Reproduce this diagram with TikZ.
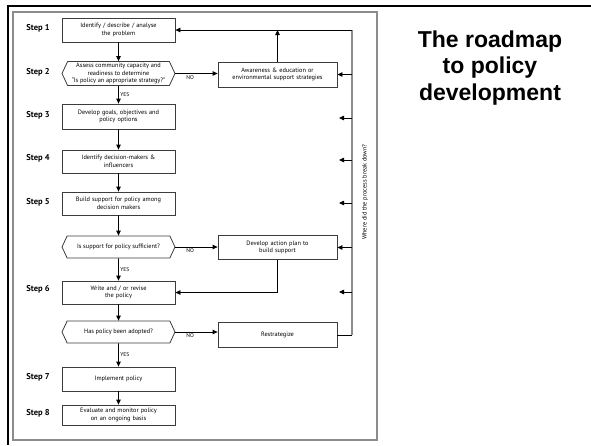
\documentclass[tikz,border=0pt]{standalone}
\usepackage{fontspec}
\setmainfont{PT Sans}
\newfontfamily\titlefont{Liberation Sans}
\usetikzlibrary{shapes.symbols,arrows.meta,calc}
\definecolor{framegray}{RGB}{140,140,140}
\definecolor{boxgray}{RGB}{60,60,60}

\begin{document}
\begin{tikzpicture}[x=1pt, y=-1pt,
    block/.style={rectangle, draw=boxgray, line width=0.8pt, minimum width=113pt, text width=108pt, inner sep=1pt, align=center, font=\fontsize{6.3}{7.6}\selectfont},
    decision/.style={signal, signal to=west and east, signal pointer angle=130, draw=boxgray, line width=0.8pt, minimum width=113pt, minimum height=24pt, inner sep=0pt, align=center, font=\fontsize{6.3}{7.6}\selectfont},
    steplabel/.style={font=\bfseries\fontsize{8.5}{10}\selectfont},
    answer/.style={font=\fontsize{5.5}{6}\selectfont, inner sep=1.5pt},
    arrow/.style={-{Triangle[length=5pt,width=4.5pt]}, line width=0.8pt}
]
    \useasboundingbox (0,0) rectangle (591,445);

    % frames
    \draw[line width=2.5pt] (8,445) -- (8,6) -- (591,6);
    \draw[framegray, line width=1.3pt] (13,12) rectangle (377,440);

    % main column
    \node[block, minimum height=24pt] (identify) at (118.5,30) {Identify / describe / analyse\\the problem};
    \node[decision] (assess) at (118.5,73.5) {Assess community capacity and\\readiness to determine\\``Is policy an appropriate strategy?''};
    \node[block, minimum height=25pt] (goals) at (118.5,116.5) {Develop goals, objectives and\\policy options};
    \node[block, minimum height=23pt] (makers) at (118.5,161.5) {Identify decision-makers \&\\influencers};
    \node[block, minimum height=23pt] (support) at (118.5,203.5) {Build support for policy among\\decision makers};
    \node[decision, minimum height=22pt] (enough) at (118.5,247) {Is support for policy sufficient?};
    \node[block, minimum height=23pt] (write) at (118.5,292.5) {Write and / or revise\\the policy};
    \node[decision, minimum height=22pt] (adopted) at (118.5,332) {Has policy been adopted?};
    \node[block, minimum height=24pt] (implement) at (118.5,379) {Implement policy};
    \node[block, minimum height=20pt] (evaluate) at (118.5,415) {Evaluate and monitor policy\\on an ongoing basis};

    % side boxes
    \node[block, minimum width=119pt, minimum height=25pt] (aware) at (277.5,74.5) {Awareness \& education or\\environmental support strategies};
    \node[block, minimum width=119pt, minimum height=24pt] (plan) at (277.5,247.5) {Develop action plan to\\build support};
    \node[block, minimum width=119pt, minimum height=25pt] (restrat) at (277.5,335) {Restrategize};

    % step labels
    \foreach \s/\y in {1/28,2/72,3/115,4/158,5/202,6/289,7/377,8/413}
        \node[steplabel] (step\s) at (38,\y) {Step \s};

    % title
    \node[font=\titlefont\bfseries\fontsize{23}{26.5}\selectfont, align=center] (title) at (490,68) {The roadmap\\to policy\\development};

    % flow
    \draw[arrow] (identify) -- (assess);
    \draw[arrow] (assess) -- node[answer, right] {YES} (goals);
    \draw[arrow] (goals) -- (makers);
    \draw[arrow] (makers) -- (support);
    \draw[arrow] (support) -- (enough);
    \draw[arrow] (enough) -- node[answer, right] {YES} (write);
    \draw[arrow] (write) -- (adopted);
    \draw[arrow] (adopted) -- node[answer, right] {YES} (implement);
    \draw[arrow] (implement) -- (evaluate);

    \draw[arrow] (assess.east) -- node[answer, below, pos=0.35] {NO} (aware.west |- assess.east);
    \draw[arrow] (enough.east) -- node[answer, below, pos=0.35] {NO} (plan.west |- enough.east);
    \draw[arrow] (adopted.east) -- node[answer, below, pos=0.35] {NO} (restrat.west |- adopted.east);
    \draw[arrow] (plan.south) |- (write.east);

    % feedback line
    \coordinate (bustop) at (352,30);
    \coordinate (busbot) at (352,335);
    \coordinate (awaretop) at (aware.north |- bustop);
    \draw[line width=0.8pt] (restrat.east) -- (busbot);
    \draw[framegray, line width=1.3pt] (busbot) -- (bustop);
    \draw[arrow] (bustop) -- (identify.east);
    \draw[arrow] (aware.north) -- (awaretop);
    \draw[arrow] (aware.east -| bustop) -- (aware.east);
    \draw[arrow] (plan.east -| bustop) -- (plan.east);
    \foreach \y [count=\i] in {118,160,203,292} {
        \coordinate (bus\i) at (352,\y);
        \coordinate (tip\i) at (339,\y);
        \draw[arrow] (bus\i) -- (tip\i);
    }
    \node[rotate=90, font=\fontsize{6.3}{7}\selectfont] (breakdown) at (365,192) {Where did the process break down?};
\end{tikzpicture}
\end{document}
